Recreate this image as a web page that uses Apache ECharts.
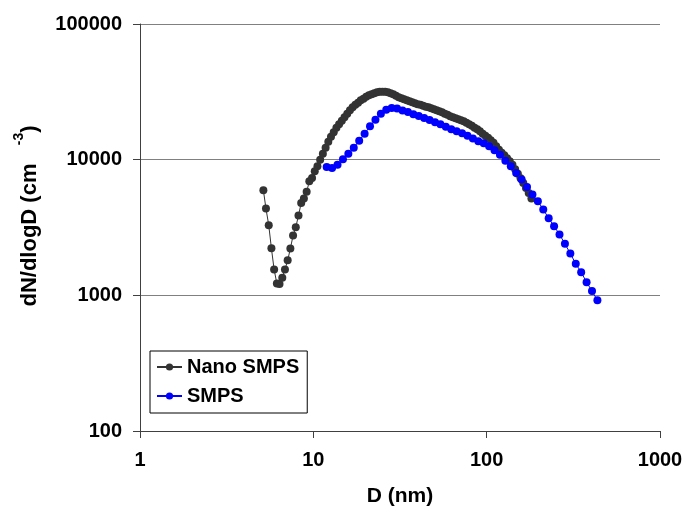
<!DOCTYPE html>
<html>
<head>
<meta charset="utf-8">
<script src="https://cdn.jsdelivr.net/npm/echarts@6/dist/echarts.min.js"></script>
<style>
html,body{margin:0;padding:0;background:#fff;}
#chart{width:687px;height:512px;}
</style>
</head>
<body>
<div id="chart"></div>
<script>
// Nano SMPS: diameter (nm) and dN/dlogD (cm^-3)
var nanoD = [5.15,5.33,5.53,5.73,5.94,6.16,6.38,6.62,6.86,7.11,7.37,7.64,7.92,8.21,8.51,8.82,9.15,9.48,9.83,10.19,10.56,10.95,11.35,11.77,12.20,12.64,13.11,13.59,14.08,14.60,15.13,15.69,16.26,16.86,17.48,18.12,18.78,19.47,20.18,20.92,21.69,22.48,23.31,24.16,25.05,25.96,26.91,27.90,28.92,29.98,31.08,32.22,33.40,34.62,35.89,37.21,38.57,39.98,41.45,42.96,44.54,46.17,47.86,49.62,51.44,53.32,55.27,57.30,59.40,61.57,63.83,66.17,68.59,71.10,73.71,76.41,79.21,82.11,85.12,88.24,91.47,94.82,98.29,101.9,105.6,109.5,113.5,117.7,122.0,126.4,131.1,135.9,140.8,146.0,151.3,156.9,162.7,168.6,174.8,181.2];
var nanoN = [5950,4360,3290,2220,1550,1220,1210,1350,1550,1810,2210,2760,3180,3870,4800,5170,5790,6930,7340,8200,8930,10000,11070,12250,13570,14760,15930,17190,18240,19360,20540,21790,23120,24320,25380,26250,27380,28090,29060,29810,30320,30830,31360,31620,31620,31620,31360,30830,30320,29550,28810,28330,27850,27380,26920,26470,26030,25590,25380,24950,24530,24320,23910,23510,23120,22730,22350,21790,21420,20890,20540,20190,19850,19520,19190,18710,18240,17780,17190,16760,16200,15530,15010,14510,13910,13340,12570,11840,11260,10790,10260,9750,9190,8510,7890,7310,6720,6170,5670,5170];

// SMPS: diameter (nm) and dN/dlogD (cm^-3)
var smpsD = [11.94,12.83,13.79,14.82,15.92,17.11,18.39,19.76,21.23,22.82,24.52,26.35,28.31,30.42,32.69,35.13,37.75,40.57,43.59,46.84,50.34,54.09,58.12,62.46,67.11,72.12,77.50,83.28,89.49,96.17,103.3,111.0,119.3,128.2,137.8,148.0,159.1,170.9,183.7,197.4,212.1,227.9,244.9,263.2,282.8,303.9,326.6,350.9,377.1,405.2,435.4];
var smpsN = [8840,8690,9190,10090,11070,12250,13800,15530,17630,19690,21790,23320,23990,23790,23000,22420,21610,20960,20260,19590,18870,18240,17480,16760,16200,15660,15010,14340,13680,13220,12570,11750,10880,9830,8930,7990,7130,6300,5530,4940,4290,3700,3230,2810,2400,2030,1710,1480,1250,1075,919];

var seriesNames = ['Nano SMPS', 'SMPS'];
var xTickLabels = ['1','10','100','1000'];
var yTickLabels = ['100','1000','10000','100000'];

function pairs(xs, ys){ var out=[]; for(var i=0;i<xs.length;i++){ out.push([xs[i], ys[i]]); } return out; }
function tickText(list){ return function(v){ var s=String(Math.round(v)); return list.indexOf(s)>=0 ? s : ''; }; }

var FONT = "'Liberation Sans', Arial, sans-serif";
var chart = echarts.init(document.getElementById('chart'), null, {renderer:'canvas'});
chart.setOption({
  animation: false,
  backgroundColor: '#ffffff',
  grid: { left: 140, right: 27, top: 24, bottom: 80, containLabel: false },
  legend: {
    orient: 'vertical', left: 150, top: 351,
    padding: [6, 8, 7, 6], itemGap: 9, itemWidth: 25, itemHeight: 9,
    borderColor: '#000', borderWidth: 1, borderRadius: 0, backgroundColor: '#fff',
    textStyle: { fontFamily: FONT, fontSize: 20, fontWeight: 'bold', color: '#000' },
    data: seriesNames
  },
  graphic: [{
    type: 'text', x: 30, y: 216, rotation: Math.PI / 2, z: 10,
    style: {
      text: '{a|dN/dlogD (cm   }{s|-3}{a|)}',
      align: 'center', verticalAlign: 'middle',
      rich: {
        a: { fontFamily: FONT, fontSize: 22, fontWeight: 'bold', fill: '#000', lineHeight: 36 },
        s: { fontFamily: FONT, fontSize: 14, fontWeight: 'bold', fill: '#000', lineHeight: 14, verticalAlign: 'top' }
      }
    }
  }],
  xAxis: {
    type: 'log', logBase: 10, min: 1, max: 1000,
    name: 'D (nm)', nameLocation: 'middle', nameGap: 55,
    nameTextStyle: { fontFamily: FONT, fontSize: 21, fontWeight: 'bold', color: '#000' },
    axisLine: { show: true, lineStyle: { color: '#404040', width: 1 } },
    axisTick: { show: true, length: 7, lineStyle: { color: '#404040' } },
    minorTick: { show: false },
    splitLine: { show: false },
    axisLabel: { fontFamily: FONT, fontSize: 20, fontWeight: 'bold', color: '#000', margin: 19, formatter: tickText(xTickLabels) }
  },
  yAxis: {
    type: 'log', logBase: 10, min: 100, max: 100000,
    axisLine: { show: true, lineStyle: { color: '#404040', width: 1 } },
    axisTick: { show: true, length: 7, lineStyle: { color: '#404040' } },
    minorTick: { show: false },
    splitLine: { show: true, lineStyle: { color: '#808080', width: 1 } },
    axisLabel: { fontFamily: FONT, fontSize: 20, fontWeight: 'bold', color: '#000', margin: 18, formatter: tickText(yTickLabels) }
  },
  series: [
    {
      name: seriesNames[0], type: 'line', data: pairs(nanoD, nanoN),
      symbol: 'circle', symbolSize: 8, showSymbol: true,
      itemStyle: { color: '#333333' },
      lineStyle: { color: '#333333', width: 1 }
    },
    {
      name: seriesNames[1], type: 'line', data: pairs(smpsD, smpsN),
      symbol: 'circle', symbolSize: 8, showSymbol: true,
      itemStyle: { color: '#0000ff' },
      lineStyle: { color: '#0000ff', width: 1 }
    }
  ]
});
</script>
</body>
</html>
